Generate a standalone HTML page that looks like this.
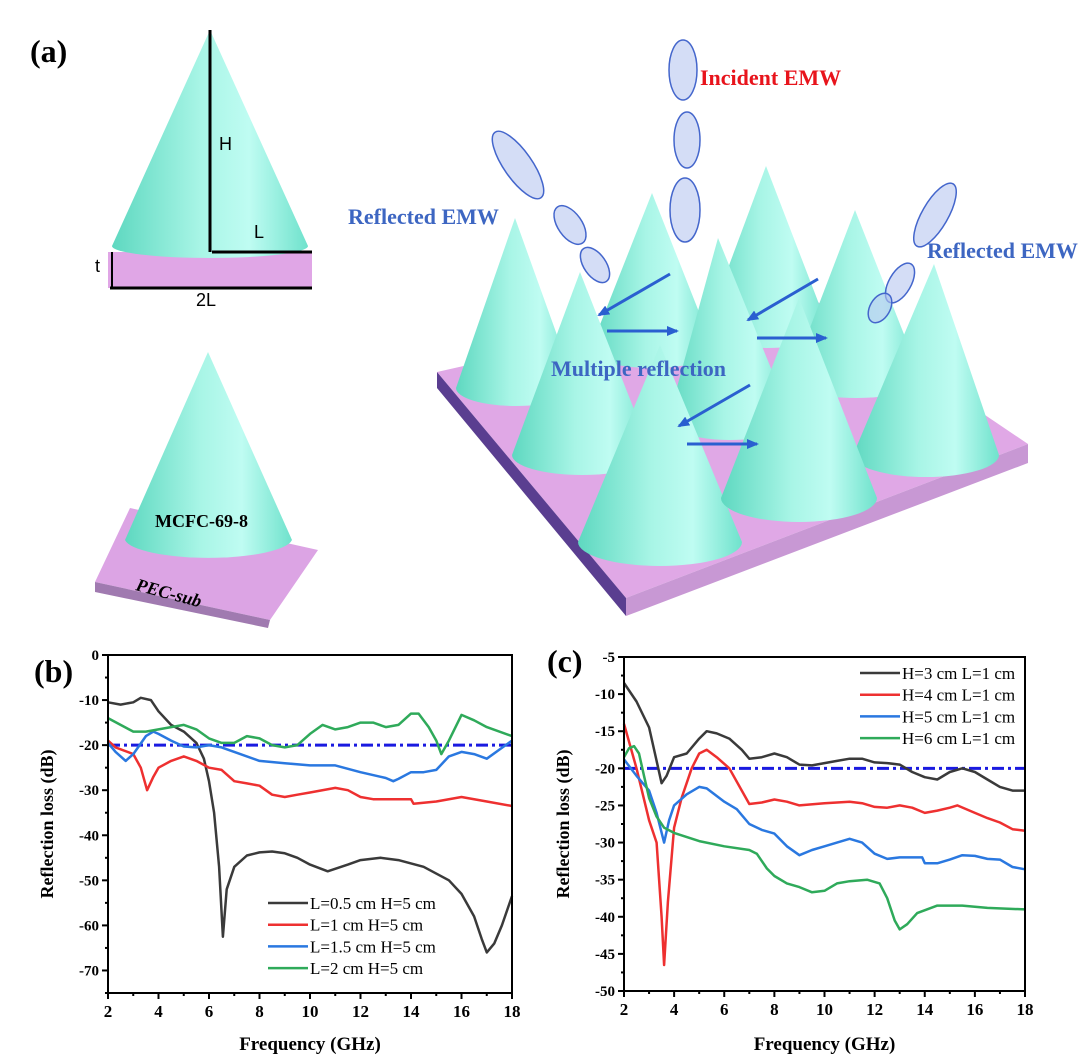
<!DOCTYPE html>
<html><head><meta charset="utf-8"><style>
body{margin:0;background:#fff;}
svg{display:block;font-family:"Liberation Serif",serif;}
</style></head><body>
<svg id="fig" width="1080" height="1063" viewBox="0 0 1080 1063">
<defs>
<linearGradient id="cg" x1="0" x2="1" y1="0" y2="0">
<stop offset="0" stop-color="#5ed8c0"/><stop offset="0.45" stop-color="#a8f5e6"/><stop offset="0.7" stop-color="#bffcf2"/><stop offset="1" stop-color="#6fe2cc"/></linearGradient>
<marker id="ah" markerUnits="userSpaceOnUse" markerWidth="12" markerHeight="10" refX="10" refY="5" orient="auto"><path d="M0,0 L12,5 L0,10 z" fill="#2a5fd0"/></marker>
</defs>
<g id="illus">
<text x="30" y="62" font-size="32" font-weight="bold">(a)</text>
<polygon points="108,252 312,252 312,288 108,288" fill="#e0a6e6"/>
<path d="M210,30 L112,246 A98,12 0 0 0 308,246 Z" fill="url(#cg)"/>
<line x1="210" y1="30" x2="210" y2="252" stroke="#000" stroke-width="3"/>
<line x1="212" y1="252" x2="312" y2="252" stroke="#000" stroke-width="3"/>
<line x1="110" y1="288" x2="312" y2="288" stroke="#000" stroke-width="3"/>
<line x1="112" y1="252" x2="112" y2="288" stroke="#000" stroke-width="2"/>
<text x="219" y="150" font-family="Liberation Sans,sans-serif" font-size="18">H</text>
<text x="254" y="238" font-family="Liberation Sans,sans-serif" font-size="18">L</text>
<text x="95" y="272" font-family="Liberation Sans,sans-serif" font-size="18">t</text>
<text x="196" y="306" font-family="Liberation Sans,sans-serif" font-size="18">2L</text>
<polygon points="95,582 130,508 318,550 270,620" fill="#dca4e4"/>
<polygon points="95,582 270,620 268,628 95,592" fill="#a07ab0"/>
<path d="M208,352 L125,540 A84,20 0 0 0 292,540 Z" fill="url(#cg)"/>
<text x="155" y="527" font-size="18" font-weight="bold">MCFC-69-8</text>
<text x="135" y="590" font-size="18" font-weight="bold" font-style="italic" transform="rotate(15 135 590)">PEC-sub</text>
<polygon points="437,372 800,290 1028,444 626,598" fill="#e0a8e6"/>
<polygon points="437,372 626,598 626,616 437,388" fill="#5a3e90"/>
<polygon points="626,598 1028,444 1028,463 626,616" fill="#c898d4"/>
<g>
<path d="M515,218 L456,388 A60,18 0 0 0 576,388 Z" fill="url(#cg)"/>
<path d="M652,193 L590,350 A62,18 0 0 0 714,350 Z" fill="url(#cg)"/>
<path d="M766,166 L705,330 A62,18 0 0 0 829,330 Z" fill="url(#cg)"/>
<path d="M855,210 L790,380 A66,18 0 0 0 922,380 Z" fill="url(#cg)"/>
<path d="M580,272 L512,455 A70,20 0 0 0 652,455 Z" fill="url(#cg)"/>
<path d="M718,238 L668,420 A62,20 0 0 0 792,420 Z" fill="url(#cg)"/>
<path d="M934,264 L853,455 A73,22 0 0 0 999,455 Z" fill="url(#cg)"/>
<path d="M660,345 L578,542 A82,24 0 0 0 742,542 Z" fill="url(#cg)"/>
<path d="M799,298 L721,498 A78,24 0 0 0 877,498 Z" fill="url(#cg)"/>
</g>
<g stroke="#4466cc" stroke-width="1.5" fill="#b8c6f0" fill-opacity="0.6">
<ellipse cx="683" cy="70" rx="14" ry="30"/><ellipse cx="687" cy="140" rx="13" ry="28"/><ellipse cx="685" cy="210" rx="15" ry="32"/>
<ellipse cx="518" cy="165" rx="14" ry="40" transform="rotate(-35 518 165)"/><ellipse cx="570" cy="225" rx="12" ry="22" transform="rotate(-35 570 225)"/><ellipse cx="595" cy="265" rx="11" ry="20" transform="rotate(-35 595 265)"/>
<ellipse cx="935" cy="215" rx="13" ry="36" transform="rotate(30 935 215)"/><ellipse cx="900" cy="283" rx="11" ry="22" transform="rotate(30 900 283)"/><ellipse cx="880" cy="308" rx="10" ry="16" transform="rotate(30 880 308)"/>
</g>
<g stroke="#2a5fd0" stroke-width="3" marker-end="url(#ah)">
<line x1="670" y1="274" x2="599" y2="315"/><line x1="607" y1="331" x2="677" y2="331"/>
<line x1="818" y1="279" x2="748" y2="320"/><line x1="757" y1="338" x2="826" y2="338"/>
<line x1="750" y1="385" x2="679" y2="426"/><line x1="687" y1="444" x2="757" y2="444"/>
</g>
<text x="700" y="85" font-size="22" font-weight="bold" fill="#e8141c">Incident EMW</text>
<text x="348" y="224" font-size="22" font-weight="bold" fill="#3d66c2">Reflected EMW</text>
<text x="927" y="258" font-size="22" font-weight="bold" fill="#3d66c2">Reflected EMW</text>
<text x="551" y="376" font-size="22" font-weight="bold" fill="#3d66c2">Multiple reflection</text>
</g>
<g id="chartB"></g>
<g id="chartC"></g>
</svg>
<script>
const bX = [2,2.5,3,3.3,3.7,4,4.5,5,5.5,5.8,6,6.2,6.4,6.55,6.7,7,7.5,8,8.5,9,9.5,10,10.7,11.5,12,12.8,13.5,14.5,15.5,16,16.5,16.8,17,17.3,17.6,18];
const bBlack = [-10.5,-11,-10.5,-9.5,-10,-12.5,-15.5,-17,-19.5,-23,-28,-35,-47,-62.5,-52,-47,-44.5,-43.8,-43.6,-44,-45,-46.5,-48,-46.5,-45.5,-45,-45.5,-47,-50,-53,-58,-63,-66,-64,-60,-53.5];
const bRedX = [2,2.3,3,3.3,3.55,3.8,4,4.5,5,5.5,6,6.5,7,7.5,8,8.5,9,9.5,10,11,11.5,12,12.5,13,14,14.1,15,16,17,18];
const bRed = [-19,-20.5,-22,-25,-30,-27,-25,-23.5,-22.5,-23.5,-25,-25.5,-28,-28.5,-29,-31,-31.5,-31,-30.5,-29.5,-30,-31.5,-32,-32,-32,-33,-32.5,-31.5,-32.5,-33.5];
const bBlueX = [2,2.3,2.7,3,3.5,3.8,4,4.5,5,5.5,6,6.5,7,8,9,10,11,12,13,13.3,13.5,14,14.5,15,15.5,16,16.5,17,17.5,18];
const bBlue = [-19.5,-21.5,-23.5,-22,-18,-17,-17.5,-19,-20.3,-20.5,-20,-20.5,-21.5,-23.5,-24,-24.5,-24.5,-26,-27.3,-28,-27.5,-26,-26,-25.5,-22.5,-21.5,-22,-23,-21,-19];
const bGreenX = [2,2.5,3,3.5,4,4.5,5,5.5,6,6.5,7,7.5,8,8.5,9,9.5,10,10.5,11,11.5,12,12.5,13,13.5,14,14.3,14.7,15,15.2,15.5,16,16.5,17,18];
const bGreen = [-14,-15.5,-17,-17,-16.5,-16,-15.5,-16.5,-18.5,-19.5,-19.5,-18,-18.5,-20,-20.5,-20,-17.5,-15.5,-16.5,-16,-15,-15,-16,-15.5,-13,-13,-16,-19,-22,-19,-13.3,-14.5,-16,-18];
const bLegend = ["L=0.5 cm H=5 cm","L=1 cm H=5 cm","L=1.5 cm H=5 cm","L=2 cm H=5 cm"];
const bYTicks = [0,-10,-20,-30,-40,-50,-60,-70];

const cBlackX = [2,2.5,3,3.3,3.5,3.7,4,4.5,5,5.3,5.7,6.2,6.7,7,7.5,8,8.5,9,9.5,10,10.5,11,11.5,12,12.5,13,13.5,14,14.5,15,15.5,16,16.5,17,17.5,18];
const cBlack = [-8.5,-11,-14.5,-19,-22,-21,-18.5,-18,-16,-15,-15.3,-16,-17.5,-18.7,-18.5,-18,-18.5,-19.5,-19.6,-19.3,-19,-18.7,-18.7,-19.2,-19.3,-19.5,-20.5,-21.2,-21.5,-20.5,-20,-20.5,-21.5,-22.5,-23,-23];
const cRedX = [2,2.5,3,3.3,3.5,3.6,3.75,4,4.3,4.7,5,5.3,5.7,6.2,6.7,7,7.5,8,8.5,9,10,11,11.5,12,12.5,13,13.5,14,14.5,15,15.3,16,16.5,17,17.5,18];
const cRed = [-14,-20,-27,-30,-40,-46.5,-38,-28,-24,-20,-18,-17.5,-18.5,-20,-23,-24.8,-24.6,-24.2,-24.5,-25,-24.7,-24.5,-24.7,-25.2,-25.3,-25,-25.3,-26,-25.7,-25.3,-25,-26,-26.7,-27.3,-28.2,-28.4];
const cBlueX = [2,2.5,3,3.3,3.6,3.8,4,4.5,5,5.3,6,6.5,7,7.5,8,8.5,9,9.5,10,10.5,11,11.5,12,12.5,13,13.9,14,14.5,15,15.5,16,16.5,17,17.5,18];
const cBlue = [-18.8,-21,-23,-26,-30,-27,-25,-23.5,-22.5,-22.7,-24.5,-25.5,-27.5,-28.3,-28.8,-30.5,-31.7,-31,-30.5,-30,-29.5,-30,-31.5,-32.2,-32,-32,-32.8,-32.8,-32.3,-31.7,-31.8,-32.2,-32.3,-33.3,-33.6];
const cGreenX = [2,2.2,2.4,2.6,2.8,3,3.3,3.6,4,5,6,7,7.3,7.7,8,8.5,9,9.5,10,10.5,11,11.7,12.2,12.5,12.8,13,13.3,13.7,14.5,15.5,16.5,18];
const cGreen = [-18.5,-17.3,-17,-18,-21,-24,-26.5,-28,-28.7,-29.8,-30.5,-31,-31.5,-33.5,-34.5,-35.5,-36,-36.7,-36.5,-35.5,-35.2,-35,-35.5,-37.5,-40.5,-41.7,-41,-39.5,-38.5,-38.5,-38.8,-39];
const cLegend = ["H=3 cm L=1 cm","H=4 cm L=1 cm","H=5 cm L=1 cm","H=6 cm L=1 cm"];
const cYTicks = [-5,-10,-15,-20,-25,-30,-35,-40,-45,-50];
const xTicks = [2,4,6,8,10,12,14,16,18];
const refLevel = -20;
const colors = ["#3a3a3a","#ee3030","#2a78e0","#2faa5a"];

const NS="http://www.w3.org/2000/svg";
function mk(parent,tag,attrs,text){const e=document.createElementNS(NS,tag);for(const k in attrs)e.setAttribute(k,attrs[k]);if(text!==undefined)e.textContent=text;parent.appendChild(e);return e;}

function drawChart(g,box,yMin,yMax,yTicks,minorStep,series,legend,legPos,panel){
  const sx=v=>box.l+(v-2)/(16)*(box.r-box.l);
  const sy=v=>box.t+(yMax-v)/(yMax-yMin)*(box.b-box.t);
  for(let v=2;v<=18.001;v+=1){const t=mk(g,'line',{x1:sx(v),x2:sx(v),y1:box.b,y2:box.b+(Number.isInteger(v/2)?6:3),stroke:'#000','stroke-width':2});
    
    }
  for(let v=yMax;v>=yMin-0.001;v-=minorStep){const major=yTicks.includes(Math.round(v));const t=mk(g,'line',{x1:box.l-(major?6:3),x2:box.l,y1:sy(v),y2:sy(v),stroke:'#000','stroke-width':2});
    
    }
  xTicks.forEach(v=>{const t=mk(g,'text',{x:sx(v),y:box.b+24,'text-anchor':'middle','font-size':17,'font-weight':'bold'},String(v));
    
    });
  yTicks.forEach(v=>{const t=mk(g,'text',{x:box.l-9,y:sy(v)+5,'text-anchor':'end','font-size':15,'font-weight':'bold'},String(v));
    
    });
  const ref=mk(g,'line',{x1:box.l,x2:box.r,y1:sy(refLevel),y2:sy(refLevel),stroke:'#1a1ae0','stroke-width':3,'stroke-dasharray':'12,4,3,4'});
  
  
  series.forEach((s,i)=>{const p=mk(g,'polyline',{points:s[0].map((x,j)=>sx(x).toFixed(1)+','+sy(s[1][j]).toFixed(1)).join(' '),fill:'none',stroke:colors[i],'stroke-width':2.5,'stroke-linejoin':'round'});
    
    });
  const frame=mk(g,'rect',{x:box.l,y:box.t,width:box.r-box.l,height:box.b-box.t,fill:'none',stroke:'#000','stroke-width':2});
  
  
  legend.forEach((txt,i)=>{const y=legPos.y+i*21.7;
    const ln=mk(g,'line',{x1:legPos.x,x2:legPos.x+40,y1:y,y2:y,stroke:colors[i],'stroke-width':2.5});
    
    
    const t=mk(g,'text',{x:legPos.x+42,y:y+6,'font-size':17},txt);
    
    });
  const xl=mk(g,'text',{x:(box.l+box.r)/2,y:1050,'text-anchor':'middle','font-size':19,'font-weight':'bold'},'Frequency (GHz)');
  
  
  const cx=box.l-55,cy=(box.t+box.b)/2;
  const yl=mk(g,'text',{x:cx,y:cy,'text-anchor':'middle','font-size':18,'font-weight':'bold',transform:`rotate(-90 ${cx} ${cy})`},'Reflection loss (dB)');
  
  
  const pl=mk(g,'text',{x:panel.x,y:panel.y,'font-size':32,'font-weight':'bold'},panel.t);
  
  
}
drawChart(document.getElementById('chartB'),{l:108,r:512,t:655,b:993},-75,0,bYTicks,5,
  [[bX,bBlack],[bRedX,bRed],[bBlueX,bBlue],[bGreenX,bGreen]],bLegend,{x:268,y:903},{x:34,y:682,t:'(b)'});
drawChart(document.getElementById('chartC'),{l:624,r:1025,t:657,b:991},-50,-5,cYTicks,2.5,
  [[cBlackX,cBlack],[cRedX,cRed],[cBlueX,cBlue],[cGreenX,cGreen]],cLegend,{x:860,y:673},{x:547,y:672,t:'(c)'});
</script>
</body></html>
